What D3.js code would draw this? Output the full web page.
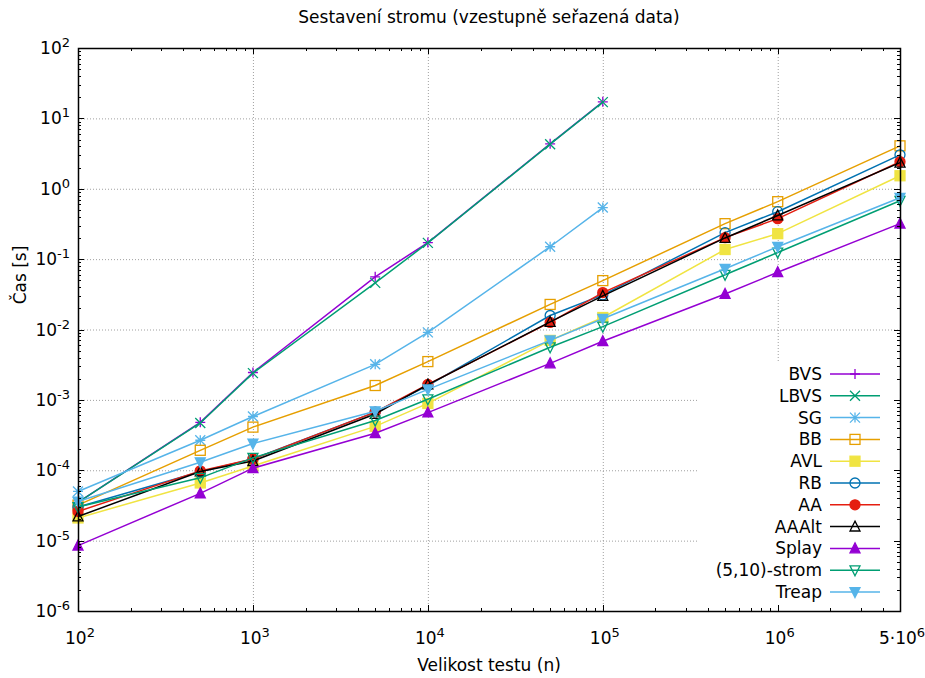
<!DOCTYPE html>
<html>
<head>
<meta charset="utf-8">
<script src="https://cdn.jsdelivr.net/npm/d3@7"></script>
<style>
  html, body { margin: 0; padding: 0; background: #fff; }
  text { font-family: "DejaVu Sans", sans-serif; fill: #000; }
</style>
</head>
<body>
<script>
// Test sizes (x axis)
const sizes = [100, 500, 1000, 5000, 10000, 50000, 100000, 500000, 1000000, 5000000];

// Build times in seconds per tree type
const bvs   = [3.5e-5, 4.8e-4, 2.45e-3, 0.056, 0.172, 4.35, 17.2];
const lbvs  = [3.5e-5, 4.7e-4, 2.4e-3, 0.046, 0.170, 4.3, 17.0];
const sg    = [5.0e-5, 2.67e-4, 5.8e-4, 3.2e-3, 9.1e-3, 0.150, 0.54];
const bb    = [3.2e-5, 1.92e-4, 4.1e-4, 1.6e-3, 3.5e-3, 0.0227, 0.0495, 0.319, 0.655, 4.07];
const avl   = [2.1e-5, 6.6e-5, 1.15e-4, 4.2e-4, 8.9e-4, 7.0e-3, 0.0148, 0.137, 0.23, 1.53];
const rb    = [3.0e-5, 9.5e-5, 1.45e-4, 6.7e-4, 1.6e-3, 0.0158, 0.031, 0.238, 0.472, 3.03];
const aa    = [2.6e-5, 9.8e-5, 1.44e-4, 6.7e-4, 1.66e-3, 0.0126, 0.0335, 0.202, 0.376, 2.42];
const aaalt = [2.2e-5, 9.6e-5, 1.35e-4, 6.3e-4, 1.65e-3, 0.0128, 0.030, 0.200, 0.417, 2.35];
const splay = [8.5e-6, 4.7e-5, 1.07e-4, 3.35e-4, 6.6e-4, 3.3e-3, 6.8e-3, 0.032, 0.065, 0.32];
const strom = [3.0e-5, 7.8e-5, 1.5e-4, 5.1e-4, 1.02e-3, 5.6e-3, 0.011, 0.060, 0.124, 0.675];
const treap = [3.6e-5, 1.30e-4, 2.4e-4, 6.9e-4, 1.41e-3, 7.0e-3, 0.0142, 0.073, 0.150, 0.745];

// Legend names
const names = ["BVS", "LBVS", "SG", "BB", "AVL", "RB", "AA", "AAAlt", "Splay", "(5,10)-strom", "Treap"];

// Axis tick labels
const xTickVals = [100, 1000, 10000, 100000, 1000000, 5000000];
const xTickLabels = [["10","2"], ["10","3"], ["10","4"], ["10","5"], ["10","6"], ["5·10","6"]];
const yTickVals = [1e2, 1e1, 1e0, 1e-1, 1e-2, 1e-3, 1e-4, 1e-5, 1e-6];
const yTickLabels = [["10","2"], ["10","1"], ["10","0"], ["10","-1"], ["10","-2"], ["10","-3"], ["10","-4"], ["10","-5"], ["10","-6"]];

const series = [
  { values: bvs,   color: "#9400d3", marker: "plus" },
  { values: lbvs,  color: "#009e73", marker: "cross" },
  { values: sg,    color: "#56b4e9", marker: "star" },
  { values: bb,    color: "#e69f00", marker: "square" },
  { values: avl,   color: "#f0e442", marker: "squareFilled" },
  { values: rb,    color: "#0072b2", marker: "circle" },
  { values: aa,    color: "#e51e10", marker: "circleFilled" },
  { values: aaalt, color: "#000000", marker: "triangle" },
  { values: splay, color: "#9400d3", marker: "triangleFilled" },
  { values: strom, color: "#009e73", marker: "triangleDown" },
  { values: treap, color: "#56b4e9", marker: "triangleDownFilled" }
].map((s, i) => ({ ...s, name: names[i] }));

const W = 925, H = 678;
const M = { left: 78, right: 900, top: 48, bottom: 611 };
const FS = 17, SUP = 13;

const svg = d3.select("body").append("svg")
  .attr("width", W).attr("height", H)
  .style("display", "block");

const x = d3.scaleLog().domain([100, 5000000]).range([M.left, M.right]);
const y = d3.scaleLog().domain([1e-6, 1e2]).range([M.bottom, M.top]);

// Grid
const grid = svg.append("g").attr("stroke", "#a0a0a0").attr("stroke-width", 1)
  .attr("stroke-dasharray", "1,2").attr("fill", "none");
[1000, 10000, 100000, 1000000].forEach(v => {
  grid.append("line").attr("x1", x(v)).attr("x2", x(v)).attr("y1", M.top).attr("y2", M.bottom)
    .attr("transform", "translate(0.5,0)");
});
yTickVals.slice(1, -1).forEach(v => {
  grid.append("line").attr("x1", M.left).attr("x2", M.right).attr("y1", y(v)).attr("y2", y(v))
    .attr("transform", "translate(0,0.5)");
});

// Ticks (log axis, mirrored, drawn inward)
const tickG = svg.append("g").attr("stroke", "#000").attr("stroke-width", 1);
const major = 6, minor = 3;
function xTicks() {
  for (let e = 2; e <= 6; e++) {
    for (let m = 1; m <= 9; m++) {
      const v = m * Math.pow(10, e);
      if (v > 5000000) break;
      const len = (m === 1 || v === 5000000) ? major : minor;
      const px = Math.round(x(v)) + 0.5;
      tickG.append("line").attr("x1", px).attr("x2", px).attr("y1", M.bottom).attr("y2", M.bottom - len);
      tickG.append("line").attr("x1", px).attr("x2", px).attr("y1", M.top).attr("y2", M.top + len);
    }
  }
}
function yTicks() {
  for (let e = -6; e <= 2; e++) {
    for (let m = 1; m <= 9; m++) {
      const v = m * Math.pow(10, e);
      if (v > 100) break;
      const len = m === 1 ? major : minor;
      const py = Math.round(y(v)) + 0.5;
      tickG.append("line").attr("x1", M.left).attr("x2", M.left + len).attr("y1", py).attr("y2", py);
      tickG.append("line").attr("x1", M.right).attr("x2", M.right - len).attr("y1", py).attr("y2", py);
    }
  }
}
xTicks(); yTicks();

// Tick labels with superscript exponents
function supLabel(g, base, exp, px, py, anchor) {
  const t = g.append("text").attr("x", px).attr("y", py).attr("text-anchor", anchor)
    .style("font-size", FS + "px");
  t.append("tspan").text(base);
  t.append("tspan").attr("dy", -7).style("font-size", SUP + "px").text(exp);
  return t;
}
const labG = svg.append("g");
xTickVals.forEach((v, i) => {
  supLabel(labG, xTickLabels[i][0], xTickLabels[i][1], x(v) + 2, 644, "middle");
});
yTickVals.forEach((v, i) => {
  supLabel(labG, yTickLabels[i][0], yTickLabels[i][1], 70, y(v) + 6, "end");
});

// Axis titles
svg.append("text").attr("x", 489).attr("y", 23).attr("text-anchor", "middle")
  .style("font-size", FS + "px").text("Sestavení stromu (vzestupně seřazená data)");
svg.append("text").attr("x", 489).attr("y", 671).attr("text-anchor", "middle")
  .style("font-size", FS + "px").text("Velikost testu (n)");
svg.append("text").attr("transform", "translate(26,275) rotate(-90)").attr("text-anchor", "middle")
  .style("font-size", FS + "px").text("Čas [s]");

// Marker shapes
function drawMarker(g, type, cx, cy, color) {
  const s = 5;
  const sw = 1.3;
  switch (type) {
    case "plus":
      g.append("path").attr("d", `M${cx - s},${cy}H${cx + s}M${cx},${cy - s}V${cy + s}`)
        .attr("stroke", color).attr("stroke-width", sw).attr("fill", "none");
      break;
    case "cross":
      g.append("path").attr("d", `M${cx - s},${cy - s}L${cx + s},${cy + s}M${cx - s},${cy + s}L${cx + s},${cy - s}`)
        .attr("stroke", color).attr("stroke-width", sw).attr("fill", "none");
      break;
    case "star":
      g.append("path").attr("d", `M${cx - s},${cy}H${cx + s}M${cx},${cy - s}V${cy + s}M${cx - s},${cy - s}L${cx + s},${cy + s}M${cx - s},${cy + s}L${cx + s},${cy - s}`)
        .attr("stroke", color).attr("stroke-width", sw).attr("fill", "none");
      break;
    case "square":
    case "squareFilled":
      g.append("rect").attr("x", cx - s).attr("y", cy - s).attr("width", 2 * s).attr("height", 2 * s)
        .attr("stroke", color).attr("stroke-width", sw)
        .attr("fill", type === "squareFilled" ? color : "none");
      break;
    case "circle":
    case "circleFilled":
      g.append("circle").attr("cx", cx).attr("cy", cy).attr("r", s)
        .attr("stroke", color).attr("stroke-width", sw)
        .attr("fill", type === "circleFilled" ? color : "none");
      break;
    case "triangle":
    case "triangleFilled": {
      const h = s * 1.1;
      g.append("path").attr("d", `M${cx},${cy - h}L${cx + s},${cy + h * 0.8}L${cx - s},${cy + h * 0.8}Z`)
        .attr("stroke", color).attr("stroke-width", sw)
        .attr("fill", type === "triangleFilled" ? color : "none");
      break;
    }
    case "triangleDown":
    case "triangleDownFilled": {
      const h = s * 1.1;
      g.append("path").attr("d", `M${cx},${cy + h}L${cx + s},${cy - h * 0.8}L${cx - s},${cy - h * 0.8}Z`)
        .attr("stroke", color).attr("stroke-width", sw)
        .attr("fill", type === "triangleDownFilled" ? color : "none");
      break;
    }
  }
}

// Series lines and points
const line = d3.line().x(d => x(d[0])).y(d => y(d[1]));
const plotG = svg.append("g");
series.forEach(s => {
  const pts = s.values.map((v, i) => [sizes[i], v]);
  const g = plotG.append("g");
  g.append("path").datum(pts).attr("d", line)
    .attr("fill", "none").attr("stroke", s.color).attr("stroke-width", 1.5);
  pts.forEach(p => drawMarker(g, s.marker, x(p[0]), y(p[1]), s.color));
});

// Legend with opaque background
const legTop = 363;
svg.append("rect").attr("x", 699).attr("y", legTop).attr("width", M.right - 699 - 1)
  .attr("height", M.bottom - legTop - 1).attr("fill", "#fff");
const legG = svg.append("g");
series.forEach((s, i) => {
  const ly = 374 + i * 21.8;
  legG.append("text").attr("x", 822).attr("y", ly + 6).attr("text-anchor", "end")
    .style("font-size", FS + "px").text(s.name);
  legG.append("line").attr("x1", 830).attr("x2", 880).attr("y1", ly).attr("y2", ly)
    .attr("stroke", s.color).attr("stroke-width", 1.5);
  drawMarker(legG, s.marker, 855, ly, s.color);
});

// Frame on top
svg.append("rect").attr("x", M.left + 0.5).attr("y", M.top + 0.5)
  .attr("width", M.right - M.left).attr("height", M.bottom - M.top)
  .attr("fill", "none").attr("stroke", "#000").attr("stroke-width", 1.5);
// Ticks stay visible over the legend background
svg.node().appendChild(tickG.node());
</script>
</body>
</html>
